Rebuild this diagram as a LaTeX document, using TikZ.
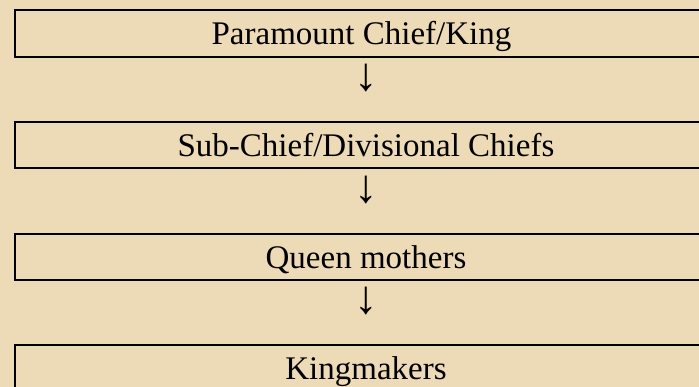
\documentclass[tikz,border=0pt]{standalone}
\usepackage{fontspec}
\setmainfont{Liberation Serif}
\definecolor{bg}{RGB}{237,218,183}
\begin{document}
\begin{tikzpicture}[x=1pt,y=-1pt,
  box/.style={draw=black, line width=2pt, fill=bg, anchor=north west, minimum width=720pt, minimum height=46.5pt, inner sep=0pt},
  lbl/.style={font=\fontsize{33}{40}\selectfont, anchor=base, inner sep=0pt},
  arr/.style={font=\fontsize{47}{56}\selectfont, anchor=center, inner sep=0pt}]
\useasboundingbox (0,0) rectangle (699,387);
\clip (0,0) rectangle (699,387);
\fill[bg] (0,0) rectangle (699,387);
\node[box] (b1) at (13.5,9.5) {};
\node[box] (b2) at (13.5,121) {};
\node[box] (b3) at (13.5,233) {};
\node[box] (b4) at (13.5,344) {};
\node[lbl] (t1) at (361.5,45) {Paramount Chief/King};
\node[lbl] (t2) at (366,156.5) {Sub-Chief/Divisional Chiefs};
\node[lbl] (t3) at (366,268.5) {Queen mothers};
\node[lbl] (t4) at (366,379.5) {Kingmakers};
\node[arr] (a1) at (366,78) {↓};
\node[arr] (a2) at (366,189.5) {↓};
\node[arr] (a3) at (366,301) {↓};
\end{tikzpicture}
\end{document}
